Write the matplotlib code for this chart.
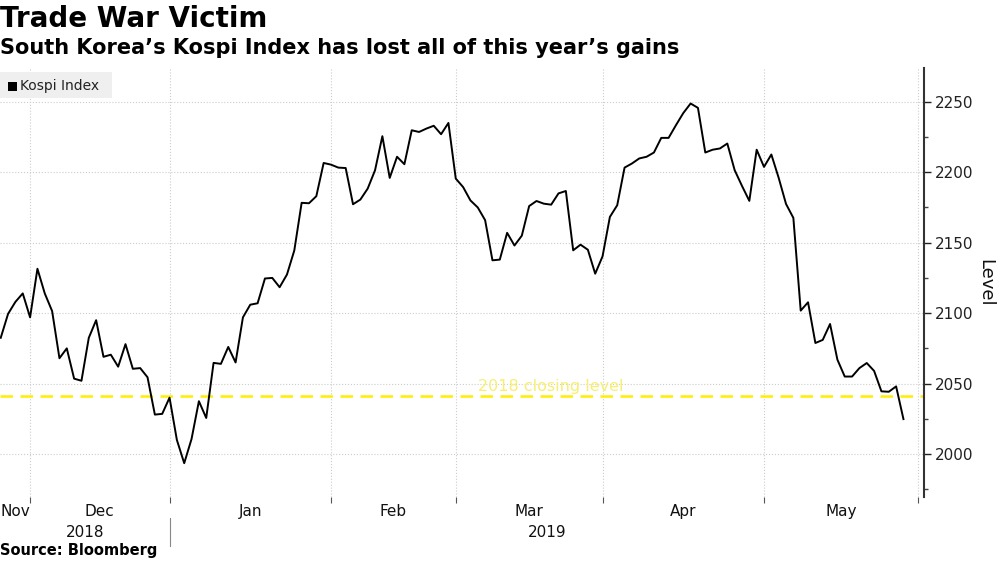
import numpy as np
import matplotlib
matplotlib.use("Agg")
import matplotlib.pyplot as plt
from matplotlib.patches import Rectangle
import matplotlib.transforms as mtransforms

# Kospi closes, one per trading day (26 Nov 2018 - 29 May 2019)
kospi = [
    2082.5, 2099.5, 2108.0, 2114.0, 2097.0,                      # Nov
    2131.5, 2114.0, 2101.5, 2068.0, 2075.0, 2053.5, 2052.0, 2082.5,
    2095.0, 2069.0, 2070.5, 2062.0, 2078.0, 2060.5, 2061.0, 2054.5,
    2028.0, 2028.5, 2040.0,                                      # Dec
    2010.0, 1993.5, 2010.7, 2037.5, 2025.6, 2064.7, 2064.0, 2076.0,
    2065.0, 2097.0, 2106.0, 2107.0, 2124.6, 2125.0, 2118.4, 2127.4,
    2144.5, 2178.3, 2178.0, 2183.0, 2206.6, 2205.4,              # Jan
    2203.3, 2203.0, 2177.3, 2180.6, 2188.4, 2201.4, 2225.6, 2196.0,
    2211.0, 2205.7, 2229.8, 2228.6, 2231.0, 2233.0, 2227.0, 2235.0,
    2195.5,                                                      # Feb
    2189.5, 2180.0, 2175.0, 2166.0, 2137.5, 2138.0, 2157.0, 2148.0,
    2155.0, 2176.0, 2179.6, 2177.7, 2177.0, 2185.0, 2186.7, 2144.6,
    2148.6, 2145.0, 2128.0, 2140.3,                              # Mar
    2168.3, 2176.6, 2203.3, 2206.2, 2209.8, 2211.0, 2214.0, 2224.4,
    2224.4, 2233.4, 2242.0, 2248.8, 2245.7, 2214.0, 2216.0, 2216.9,
    2220.4, 2201.5, 2190.3, 2179.7, 2216.0, 2203.8,              # Apr
    2212.6, 2196.0, 2177.5, 2167.6, 2101.8, 2107.7, 2078.8, 2081.0,
    2092.3, 2067.0, 2055.0, 2055.0, 2061.0, 2064.6, 2059.0, 2044.5,
    2044.2, 2048.0, 2024.8,                                      # May
]
close_2018 = 2041.04

months = ['Nov', 'Dec', 'Jan', 'Feb', 'Mar', 'Apr', 'May']
# trading days in each month shown
month_days = [5, 19, 22, 17, 20, 22, 21]
years = ['2018', '2019']

x = np.arange(len(kospi))
ends = np.cumsum(month_days) - 1          # last trading day of each month
xmin, xmax = -0.1, 125.8

fig = plt.figure(figsize=(10, 5.62), dpi=100)
ax = fig.add_axes([0.0, 1 - 497 / 562, 0.924, 429 / 562])

ax.plot(x, kospi, color='black', lw=1.4, zorder=3)
ax.axhline(close_2018, color='#ffee00', lw=1.8, ls=(0, (5, 3)), zorder=2)
ax.text(65, close_2018 + 1.5, '2018 closing level', color='#f7ef72',
        fontsize=11.5, va='bottom', ha='left')

ax.set_xlim(xmin, xmax)
ax.set_ylim(1969.5, 2274)

# right axis
ax.yaxis.tick_right()
ax.set_yticks(np.arange(2000, 2251, 50))
ax.set_yticks(np.arange(1975, 2275, 25), minor=True)
ax.tick_params(axis='y', which='major', length=5, width=1, labelsize=11,
               pad=3, colors='#222222')
ax.tick_params(axis='y', which='minor', length=3, width=1, colors='#444444')
ax.text(985 / 924, 0.5, 'Level', transform=ax.transAxes, rotation=-90,
        fontsize=13, ha='center', va='center', color='#111111')

for s in ['left', 'top', 'bottom']:
    ax.spines[s].set_visible(False)
ax.spines['right'].set_color('#333333')
ax.spines['right'].set_linewidth(1.5)

# month boundaries
ax.set_xticks(ends[:-1].tolist() + [125])
ax.set_xticklabels([])
ax.tick_params(axis='x', length=4, width=0.8, colors='#555555')
ax.grid(True, color='#cccccc', ls=':', lw=0.8)

bounds = [xmin] + ends[:-1].tolist() + [125]
trans = mtransforms.blended_transform_factory(ax.transData, ax.transAxes)
for i, m in enumerate(months):
    cx = (bounds[i] + bounds[i + 1]) / 2
    ax.text(cx, -0.033, m, transform=trans, ha='center', va='center',
            fontsize=11, color='#111111')
ax.text((xmin + ends[1]) / 2, -0.082, years[0], transform=trans,
        ha='center', va='center', fontsize=11, color='#111111')
ax.text((ends[1] + xmax) / 2, -0.082, years[1], transform=trans,
        ha='center', va='center', fontsize=11, color='#111111')
ax.plot([ends[1], ends[1]], [-0.049, -0.114], transform=trans,
        color='#888888', lw=0.8, clip_on=False)

# legend box
fig.add_artist(Rectangle((0, 1 - 98 / 562), 112 / 1000, 26 / 562,
                         transform=fig.transFigure, color='#efefef', lw=0))
fig.add_artist(Rectangle((8 / 1000, 1 - 91 / 562), 9 / 1000, 9 / 562,
                         transform=fig.transFigure, color='black', lw=0))
fig.text(20 / 1000, 1 - 86 / 562, 'Kospi Index', fontsize=10,
         va='center', ha='left', color='#222222')

fig.text(0.0, 1 - 19 / 562, 'Trade War Victim', fontsize=20,
         fontweight='bold', va='center', ha='left')
fig.text(0.0, 1 - 48 / 562,
         'South Korea\u2019s Kospi Index has lost all of this year\u2019s gains',
         fontsize=15, fontweight='bold', va='center', ha='left')
fig.text(0.0, 1 - 551 / 562, 'Source: Bloomberg', fontsize=10.5,
         fontweight='bold', va='center', ha='left')

fig.savefig('out.png', dpi=100)
